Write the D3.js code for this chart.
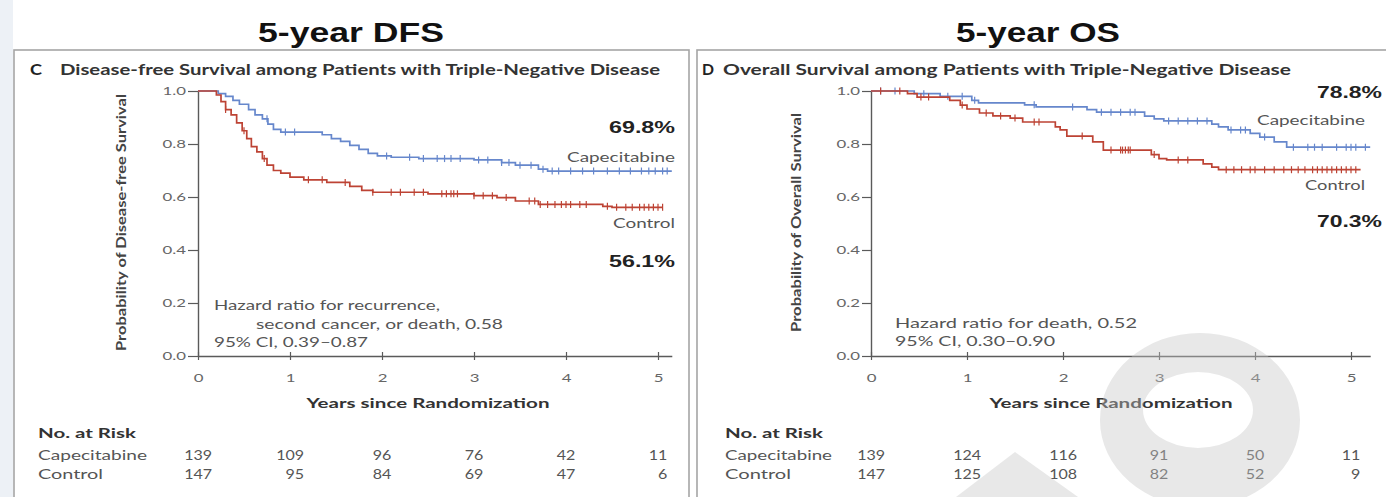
<!DOCTYPE html>
<html>
<head>
<meta charset="utf-8">
<script src="https://cdn.jsdelivr.net/npm/d3@7"></script>
<style>
  body { margin: 0; background: #fff; }
  svg { display: block; }
</style>
</head>
<body>
<svg id="chart" width="1386" height="497"></svg>
<script>
// ---- data ----
const years = [0, 1, 2, 3, 4, 5];
const probTicks = [0, 0.2, 0.4, 0.6, 0.8, 1.0];
const groups = ["Capecitabine", "Control"];

// Kaplan-Meier steps: [years, survival probability after the step]
const dfsCapecitabine = [
  [0, 1], [0.22, 0.99], [0.3, 0.98], [0.38, 0.965], [0.45, 0.95], [0.55, 0.93],
  [0.62, 0.91], [0.7, 0.895], [0.76, 0.875], [0.82, 0.855], [0.9, 0.845],
  [1.35, 0.835], [1.45, 0.82], [1.55, 0.81], [1.65, 0.795], [1.75, 0.78],
  [1.85, 0.765], [1.95, 0.755], [2.1, 0.75], [2.4, 0.745], [3.0, 0.74],
  [3.3, 0.73], [3.45, 0.72], [3.7, 0.705], [3.8, 0.698], [5.15, 0.698]
];
const dfsControl = [
  [0, 1], [0.2, 0.985], [0.25, 0.96], [0.3, 0.93], [0.36, 0.91], [0.42, 0.88],
  [0.48, 0.85], [0.53, 0.82], [0.58, 0.79], [0.64, 0.77], [0.7, 0.745],
  [0.75, 0.72], [0.82, 0.7], [0.9, 0.69], [1.0, 0.675], [1.15, 0.665],
  [1.4, 0.655], [1.65, 0.64], [1.78, 0.625], [1.9, 0.618], [2.5, 0.612],
  [3.0, 0.605], [3.25, 0.598], [3.45, 0.585], [3.7, 0.572], [4.4, 0.565],
  [4.5, 0.561], [5.05, 0.561]
];
const osCapecitabine = [
  [0, 1], [0.45, 0.99], [0.72, 0.98], [1.05, 0.965], [1.12, 0.955],
  [1.6, 0.948], [1.72, 0.94], [2.25, 0.93], [2.35, 0.92], [2.85, 0.905],
  [2.95, 0.895], [3.05, 0.887], [3.55, 0.875], [3.62, 0.865], [3.72, 0.853],
  [3.95, 0.84], [4.05, 0.826], [4.2, 0.808], [4.33, 0.788], [5.2, 0.788]
];
const osControl = [
  [0, 1], [0.38, 0.99], [0.48, 0.977], [0.82, 0.965], [0.93, 0.947],
  [1.0, 0.932], [1.13, 0.917], [1.27, 0.906], [1.45, 0.898], [1.58, 0.883],
  [1.92, 0.865], [1.97, 0.853], [2.04, 0.83], [2.31, 0.808], [2.42, 0.777],
  [2.92, 0.76], [3.0, 0.745], [3.08, 0.74], [3.46, 0.725], [3.55, 0.713],
  [3.62, 0.703], [5.1, 0.703]
];

// censored observations (years)
const dfsCapecitabineCensored = [0.75, 0.95, 1.05, 2.05, 2.3, 2.45, 2.6, 2.68, 2.75, 2.85, 3.05, 3.15, 3.3, 3.38, 3.5, 3.62, 3.75, 3.85, 3.92, 4.05, 4.18, 4.3, 4.45, 4.58, 4.7, 4.82, 4.9, 4.97, 5.05, 5.1];
const dfsControlCensored = [0.3, 0.5, 0.72, 1.2, 1.35, 1.6, 1.9, 2.1, 2.2, 2.35, 2.45, 2.65, 2.7, 2.75, 2.78, 2.82, 3.0, 3.1, 3.2, 3.35, 3.6, 3.66, 3.72, 3.8, 3.88, 3.95, 4.0, 4.05, 4.15, 4.22, 4.45, 4.55, 4.65, 4.72, 4.8, 4.85, 4.9, 4.95, 5.0, 5.05];
const osCapecitabineCensored = [0.1, 0.25, 0.55, 0.8, 0.95, 1.08, 1.7, 2.1, 2.4, 2.5, 2.6, 2.7, 2.75, 3.1, 3.2, 3.3, 3.4, 3.5, 3.75, 3.85, 3.9, 4.1, 4.4, 4.55, 4.62, 4.7, 4.85, 4.95, 5.0, 5.05, 5.15];
const osControlCensored = [0.1, 0.3, 0.52, 0.6, 0.95, 1.2, 1.35, 1.5, 1.7, 1.75, 2.2, 2.5, 2.6, 2.62, 2.65, 2.68, 2.7, 2.95, 3.2, 3.3, 3.7, 3.78, 3.86, 3.95, 4.0, 4.1, 4.2, 4.3, 4.38, 4.45, 4.52, 4.6, 4.65, 4.7, 4.75, 4.8, 4.85, 4.9, 4.95, 5.0, 5.05];

// number at risk at each year
const dfsAtRiskCapecitabine = [139, 109, 96, 76, 42, 11];
const dfsAtRiskControl = [147, 95, 84, 69, 47, 6];
const osAtRiskCapecitabine = [139, 124, 116, 91, 50, 11];
const osAtRiskControl = [147, 125, 108, 82, 52, 9];

const headings = ["5-year DFS", "5-year OS"];
const panelLetters = ["C", "D"];
const panelTitles = [
  "Disease-free Survival among Patients with Triple-Negative Disease",
  "Overall Survival among Patients with Triple-Negative Disease"
];
const yTitles = ["Probability of Disease-free Survival", "Probability of Overall Survival"];
const xTitle = "Years since Randomization";
const hazardNotes = [
  ["Hazard ratio for recurrence,", "second cancer, or death, 0.58", "95% CI, 0.39\u20130.87"],
  ["Hazard ratio for death, 0.52", "95% CI, 0.30\u20130.90"]
];

// ---- drawing ----
const svg = d3.select("#chart");
const colors = { Capecitabine: "#6687cc", Control: "#bd4334" };
const panelFont = "Lato, 'Open Sans', sans-serif";
const headFont = "'Liberation Sans', Arial, sans-serif";
const pct = d3.format(".1%");
const STRETCH = 1.4; // the panel lettering is set wide

// text helper: o.width fixes the drawn length, o.stretch widens the natural length
function put(g, str, x, y, o) {
  const t = g.append("text").attr("x", x).attr("y", y)
    .attr("font-family", o.family || panelFont).attr("font-size", o.size)
    .attr("font-weight", o.weight || 400).attr("fill", o.fill || "#555")
    .attr("text-anchor", o.anchor || "start").text(str);
  if (o.transform) t.attr("transform", o.transform);
  const w = o.width || (o.stretch ? t.node().getComputedTextLength() * o.stretch : null);
  if (w) t.attr("textLength", w).attr("lengthAdjust", "spacingAndGlyphs");
  return t;
}

svg.append("rect").attr("x", 0).attr("y", 0).attr("width", 13).attr("height", 497).attr("fill", "#edf1f6");

const panels = [
  {
    heading: headings[0], headX: 351, headW: 186,
    letter: panelLetters[0], letterX: 30, title: panelTitles[0], titleX: 60, titleW: 600,
    yTitle: yTitles[0], yTitleX: 126, yTitleW: 257,
    box: [14, 50, 675],
    x0: 198, perYear: 92, xMax: 5.15, tick: 10,
    series: { Capecitabine: dfsCapecitabine, Control: dfsControl },
    censored: { Capecitabine: dfsCapecitabineCensored, Control: dfsControlCensored },
    atRisk: { Capecitabine: dfsAtRiskCapecitabine, Control: dfsAtRiskControl },
    rateX: 675, rateW: 66, rateY: [133, 267],
    nameX: 675, nameW: [108, 62], nameY: [162, 228],
    notes: hazardNotes[0], noteX: [214, 256, 214], noteW: [226, 247, 154], noteY: [310, 329, 347],
    tableX: 38, tableW: [98, 109, 65]
  },
  {
    heading: headings[1], headX: 1038, headW: 164,
    letter: panelLetters[1], letterX: 702, title: panelTitles[1], titleX: 723, titleW: 568,
    yTitle: yTitles[1], yTitleX: 801, yTitleW: 219,
    box: [697, 50, 700],
    x0: 871, perYear: 96, xMax: 5.2, tick: 9,
    series: { Capecitabine: osCapecitabine, Control: osControl },
    censored: { Capecitabine: osCapecitabineCensored, Control: osControlCensored },
    atRisk: { Capecitabine: osAtRiskCapecitabine, Control: osAtRiskControl },
    rateX: 1382, rateW: 65, rateY: [98, 227],
    nameX: 1365, nameW: [108, 60], nameY: [125, 190],
    notes: hazardNotes[1], noteX: [895, 895], noteW: [242, 160], noteY: [328, 346],
    tableX: 725, tableW: [98, 107, 66]
  }
];

const yTop = 91, yBottom = 356;

panels.forEach(p => {
  const g = svg.append("g");

  put(g, p.heading, p.headX, 42, { family: headFont, weight: 700, size: 28, fill: "#111", anchor: "middle", width: p.headW });

  g.append("rect").attr("x", p.box[0]).attr("y", p.box[1]).attr("width", p.box[2]).attr("height", 480)
    .attr("fill", "none").attr("stroke", "#a5a5a5").attr("stroke-width", 1.6);

  put(g, p.letter, p.letterX, 75, { weight: 700, size: 15, fill: "#222", width: 12 });
  put(g, p.title, p.titleX, 75, { weight: 700, size: 14.5, fill: "#333", width: p.titleW });

  const x = d3.scaleLinear().domain([0, p.xMax]).range([p.x0, p.x0 + p.perYear * p.xMax]);
  const y = d3.scaleLinear().domain([0, 1]).range([yBottom, yTop]);

  // axes
  const yAxis = g.append("g").attr("transform", `translate(${x(0)},0)`)
    .call(d3.axisLeft(y).tickValues(probTicks).tickFormat(d3.format(".1f"))
      .tickSize(p.tick).tickSizeOuter(0).tickPadding(2));
  const xAxis = g.append("g").attr("transform", `translate(0,${y(0)})`)
    .call(d3.axisBottom(x).tickValues(years).tickFormat(d3.format("d"))
      .tickSize(4).tickSizeOuter(0).tickPadding(13));
  [yAxis, xAxis].forEach(a => {
    a.select(".domain").attr("stroke", "#5a5a5a").attr("stroke-width", 1.4);
    a.selectAll(".tick line").attr("stroke", "#5a5a5a").attr("stroke-width", 1.2);
    a.selectAll(".tick text").attr("font-family", panelFont).attr("font-size", 12).attr("fill", "#666")
      .each(function () {
        d3.select(this).attr("textLength", this.getComputedTextLength() * STRETCH)
          .attr("lengthAdjust", "spacingAndGlyphs");
      });
  });
  xAxis.selectAll(".tick line").attr("y1", -4).attr("y2", 4);

  put(g, p.yTitle, 0, 0, {
    transform: `translate(${p.yTitleX},${(yTop + yBottom) / 2 - 1}) rotate(-90)`,
    anchor: "middle", weight: 700, size: 14, fill: "#444", width: p.yTitleW
  });
  put(g, xTitle, (x(0) + x(5)) / 2, 408, { anchor: "middle", weight: 700, size: 14, fill: "#333", width: 243 });

  // curves with censoring ticks
  const line = d3.line().x(d => x(d[0])).y(d => y(d[1])).curve(d3.curveStepAfter);
  const bis = d3.bisector(d => d[0]).right;
  groups.forEach((grp, gi) => {
    const steps = p.series[grp];
    g.append("path").datum(steps).attr("d", line).attr("fill", "none")
      .attr("stroke", colors[grp]).attr("stroke-width", 1.7);
    g.selectAll(null).data(p.censored[grp]).join("line")
      .attr("x1", t => x(t)).attr("x2", t => x(t))
      .attr("y1", t => y(steps[bis(steps, t) - 1][1]) - 3.5)
      .attr("y2", t => y(steps[bis(steps, t) - 1][1]) + 3.5)
      .attr("stroke", colors[grp]).attr("stroke-width", 1.2);

    const finalRate = steps[steps.length - 1][1];
    put(g, pct(finalRate), p.rateX, p.rateY[gi], { family: headFont, weight: 700, size: 16.5, fill: "#222", anchor: "end", width: p.rateW });
    put(g, grp, p.nameX, p.nameY[gi], { size: 14, fill: "#555", anchor: "end", width: p.nameW[gi] });
  });

  // hazard ratio note
  p.notes.forEach((s, i) => put(g, s, p.noteX[i], p.noteY[i], { size: 14, fill: "#555", width: p.noteW[i] }));

  // number at risk table
  put(g, "No. at Risk", p.tableX, 438, { weight: 700, size: 14, fill: "#333", width: p.tableW[0] });
  const rowY = [460, 479];
  groups.forEach((grp, gi) => put(g, grp, p.tableX, rowY[gi], { size: 14, fill: "#555", width: p.tableW[gi + 1] }));
  years.forEach((yr, i) => {
    const digits = d3.max(groups, grp => String(p.atRisk[grp][i]).length);
    groups.forEach((grp, gi) => {
      const v = String(p.atRisk[grp][i]);
      put(g, v, x(yr) + digits * 4.7, rowY[gi], { size: 14, fill: "#555", anchor: "end", width: v.length * 9.3 });
    });
  });
});

// faint logo mark in the lower right corner
const mark = svg.append("g").attr("fill", "rgb(198,198,198)").attr("opacity", 0.4);
mark.append("path").attr("fill-rule", "evenodd")
  .attr("d", "M1100,420 A100,87 0 1 1 1300,420 A100,87 0 1 1 1100,420 Z " +
             "M1143,410 A55,38 0 1 0 1253,410 A55,38 0 1 0 1143,410 Z");
mark.append("path").attr("d", "M1015,452 L1078,497 L956,497 Z");
</script>
</body>
</html>
